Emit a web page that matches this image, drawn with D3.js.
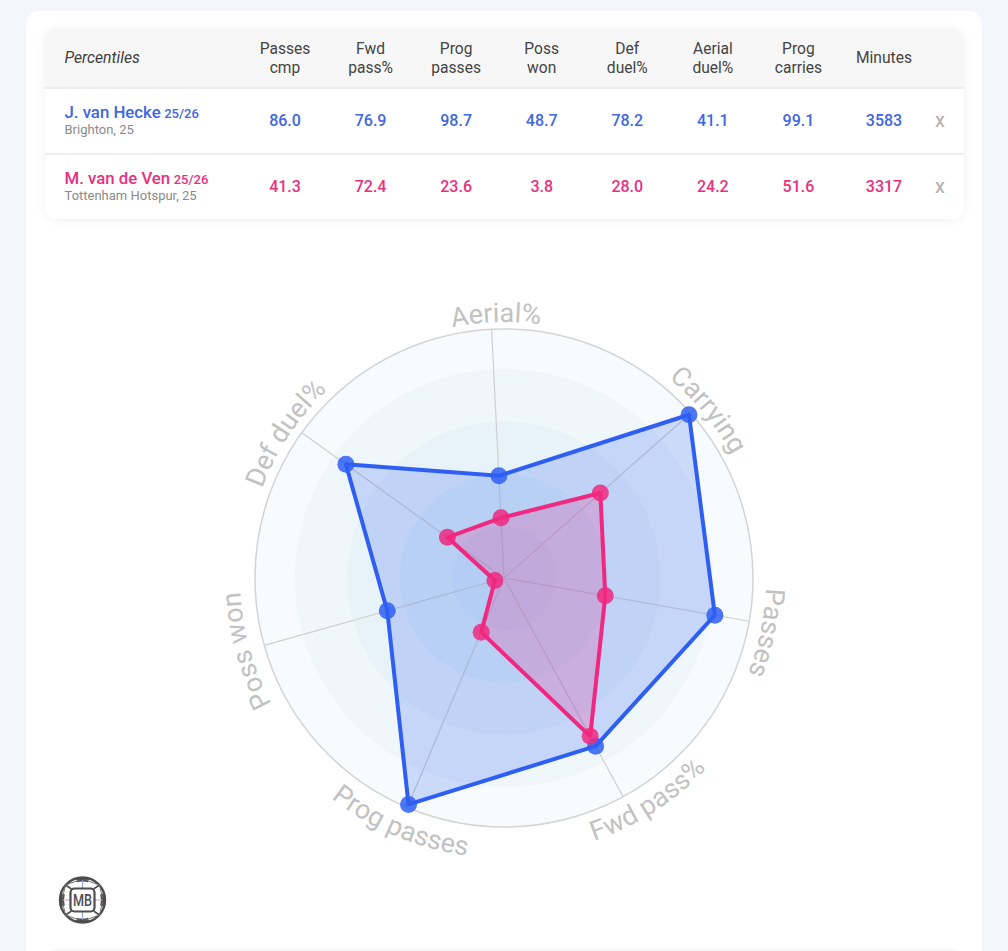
<!DOCTYPE html>
<html>
<head>
<meta charset="utf-8">
<script src="https://cdn.jsdelivr.net/npm/d3@7"></script>
<style>
  html, body { margin: 0; padding: 0; background: #f4f6fb; overflow: hidden; }
  svg { display: block; font-family: Roboto, sans-serif; }
</style>
</head>
<body>
<div id="chart"></div>
<script>
const columns = ["Passes cmp", "Fwd pass%", "Prog passes", "Poss won", "Def duel%", "Aerial duel%", "Prog carries", "Minutes"];
const axes = ["Passes", "Fwd pass%", "Prog passes", "Poss won", "Def duel%", "Aerial%", "Carrying"];
const names = ["J. van Hecke", "M. van de Ven"];
const seasons = ["25/26", "25/26"];
const clubs = ["Brighton, 25", "Tottenham Hotspur, 25"];
const heckeValues = [86.0, 76.9, 98.7, 48.7, 78.2, 41.1, 99.1];
const venValues = [41.3, 72.4, 23.6, 3.8, 28.0, 24.2, 51.6];
const minutes = [3583, 3317];
const rings = [100, 84, 63, 42, 21];

const strokes = ["#2f5ff2", "#f0287f"];
const textColors = ["#3f66e3", "#e9307f"];

const width = 1008, height = 951;
const svg = d3.select("#chart").append("svg").attr("width", width).attr("height", height);

const defs = svg.append("defs");
const shadow = defs.append("filter").attr("id", "soft")
    .attr("x", "-5%").attr("y", "-10%").attr("width", "110%").attr("height", "125%");
shadow.append("feDropShadow").attr("dx", 0).attr("dy", 1).attr("stdDeviation", 5)
    .attr("flood-color", "#000").attr("flood-opacity", 0.06);
defs.append("clipPath").attr("id", "tableClip").append("rect")
    .attr("x", 45).attr("y", 29).attr("width", 919).attr("height", 190).attr("rx", 12);

// page card
svg.append("rect").attr("x", 26).attr("y", 11).attr("width", 956).attr("height", 960)
    .attr("rx", 12).attr("fill", "#fff");
svg.append("rect").attr("x", 45).attr("y", 949).attr("width", 919).attr("height", 30)
    .attr("rx", 12).attr("fill", "#f7f7f7");

// table
const rowTop = [88, 154];
const x = d3.scalePoint().domain(columns).range([285, 884]);

const table = svg.append("g");
table.append("rect").attr("x", 45).attr("y", 29).attr("width", 919).attr("height", 190)
    .attr("rx", 12).attr("fill", "#fff").attr("filter", "url(#soft)");
const inner = table.append("g").attr("clip-path", "url(#tableClip)");
inner.append("rect").attr("x", 45).attr("y", 29).attr("width", 919).attr("height", 59).attr("fill", "#f7f7f7");
inner.selectAll("line.row").data(rowTop).enter().append("line").attr("class", "row")
    .attr("x1", 45).attr("x2", 964).attr("y1", d => d).attr("y2", d => d)
    .attr("stroke", "#e9e9e9").attr("stroke-width", 1.5);

table.append("text").attr("x", 64.5).attr("y", 62.5)
    .attr("font-size", 15.7).attr("font-style", "italic").attr("fill", "#3d3d3d").text("Percentiles");

columns.forEach(c => {
  const parts = c.split(" ");
  const t = table.append("text").attr("text-anchor", "middle").attr("font-size", 15.6).attr("fill", "#444");
  if (parts.length === 1) {
    t.attr("x", x(c)).attr("y", 62.5).text(c);
  } else {
    parts.forEach((p, i) => t.append("tspan").attr("x", x(c)).attr("y", 53.5 + i * 19).text(p));
  }
});

[heckeValues, venValues].forEach((values, row) => {
  const top = rowTop[row];
  const label = table.append("text").attr("x", 64.5).attr("y", top + 30).attr("fill", textColors[row]);
  label.append("tspan").attr("font-size", 16.8).attr("font-weight", 500).text(names[row]);
  label.append("tspan").attr("dx", 3.5).attr("font-size", 13).attr("font-weight", 500).text(seasons[row]);
  table.append("text").attr("x", 64.5).attr("y", top + 46).attr("font-size", 13)
      .attr("fill", "#8a8a8a").text(clubs[row]);

  table.selectAll(null).data(values.map(d => d.toFixed(1)).concat(String(minutes[row]))).enter().append("text")
      .attr("x", (d, i) => x(columns[i]))
      .attr("y", top + 37.5)
      .attr("text-anchor", "middle").attr("font-size", 16).attr("font-weight", 500)
      .attr("fill", textColors[row])
      .text(d => d);

  table.append("text").attr("x", 940).attr("y", top + 39).attr("text-anchor", "middle")
      .attr("font-size", 20).attr("fill", "#adadad").text("x");
});

// radar
const cx = 504, cy = 578;
const r = d3.scaleLinear().domain([0, 100]).range([0, 249]);
const angle = d3.scalePoint().domain(axes.concat("end")).range([100, 460].map(d => d * Math.PI / 180));

const radar = svg.append("g").attr("transform", `translate(${cx},${cy})`);

radar.selectAll("circle.ring").data(rings).enter().append("circle").attr("class", "ring")
    .attr("r", d => r(d))
    .attr("fill", "#3fa0c8")
    .attr("fill-opacity", (d, i) => i === 0 ? 0.045 : 0.04);
radar.append("circle").attr("r", r(100)).attr("fill", "none").attr("stroke", "#d4d4d4").attr("stroke-width", 1.5);

const lineEnd = d3.lineRadial().angle(d => angle(d[0])).radius(d => r(d[1]));
radar.selectAll("path.spoke").data(axes).enter().append("path").attr("class", "spoke")
    .attr("d", d => lineEnd([[d, 0], [d, 100]]))
    .attr("stroke", "#cfcfcf").attr("stroke-width", 1.2).attr("fill", "none");

const shape = d3.lineRadial().angle((d, i) => angle(axes[i])).radius(d => r(d)).curve(d3.curveLinearClosed);

[heckeValues, venValues].forEach((values, s) => {
  const g = radar.append("g");
  g.append("path").attr("d", shape(values))
      .attr("fill", strokes[s]).attr("fill-opacity", 0.21)
      .attr("stroke", strokes[s]).attr("stroke-width", 4).attr("stroke-linejoin", "round");
  g.selectAll("circle").data(values).enter().append("circle")
      .attr("cx", (d, i) => r(d) * Math.sin(angle(axes[i])))
      .attr("cy", (d, i) => -r(d) * Math.cos(angle(axes[i])))
      .attr("r", 8.5).attr("fill", strokes[s]).attr("fill-opacity", 0.85);
});

// curved axis labels, the two at the bottom run the other way so they stay readable
const labelPlace = {
  "Passes": { shift: 1.8, radius: 262 },
  "Fwd pass%": { shift: -4.2, radius: 278, flip: true },
  "Prog passes": { shift: 0, radius: 280, flip: true },
  "Poss won": { shift: 0, radius: 264 },
  "Def duel%": { shift: -2.2, radius: 258 },
  "Aerial%": { shift: 1.1, radius: 256 },
  "Carrying": { shift: 2, radius: 259 }
};
axes.forEach((a, i) => {
  const place = labelPlace[a];
  const mid = angle(a) - Math.PI / 2 + place.shift * Math.PI / 180;
  const span = 1.0;
  const p = d3.path();
  if (place.flip) p.arc(0, 0, place.radius, mid + span, mid - span, true);
  else p.arc(0, 0, place.radius, mid - span, mid + span, false);
  radar.append("path").attr("id", "lab" + i).attr("d", p.toString()).attr("fill", "none");
  radar.append("text").attr("font-size", 27).attr("fill", "#c2c2c2").attr("text-anchor", "middle")
    .append("textPath").attr("href", "#lab" + i).attr("startOffset", "50%").text(a);
});

// logo
const logo = svg.append("g").attr("transform", "translate(82.5,900)");
const arcWedge = d3.arc().innerRadius(18.5).outerRadius(23);
logo.append("circle").attr("r", 22.5).attr("fill", "#fff").attr("stroke", "#4d4d4d").attr("stroke-width", 2.4);
[0, 90, 180, 270].forEach(d => {
  const a = d * Math.PI / 180;
  logo.append("path").attr("d", arcWedge({ startAngle: a - 0.3, endAngle: a + 0.3 })).attr("fill", "#4d4d4d");
});
[[-11, -11, -17, -15], [11, -11, 17, -15], [-11, 11, -17, 15], [11, 11, 17, 15]].forEach(d => {
  logo.append("line").attr("x1", d[0]).attr("y1", d[1]).attr("x2", d[2]).attr("y2", d[3])
      .attr("stroke", "#4d4d4d").attr("stroke-width", 1.6);
});
[[-17, -15, -20, -2], [17, -15, 20, -2], [-17, 15, -20, 2], [17, 15, 20, 2],
 [-17, -15, -3, -20], [17, -15, 3, -20], [-17, 15, -3, 20], [17, 15, 3, 20]].forEach(d => {
  logo.append("line").attr("x1", d[0]).attr("y1", d[1]).attr("x2", d[2]).attr("y2", d[3])
      .attr("stroke", "#777").attr("stroke-width", 1);
});
[[0, -20, 0, -11, "#8ea0d8"], [0, 11, 0, 20, "#8ea0d8"], [-20, 0, -11, 0, "#d8a0bc"], [11, 0, 20, 0, "#d8a0bc"]].forEach(d => {
  logo.append("line").attr("x1", d[0]).attr("y1", d[1]).attr("x2", d[2]).attr("y2", d[3])
      .attr("stroke", d[4]).attr("stroke-width", 1);
});
logo.append("rect").attr("x", -12).attr("y", -11.5).attr("width", 24).attr("height", 23).attr("rx", 4)
    .attr("fill", "#fff").attr("stroke", "#4d4d4d").attr("stroke-width", 2.2);
logo.append("text").attr("y", 6.2).attr("text-anchor", "middle").attr("font-size", 17)
    .attr("font-weight", 500).attr("fill", "#4d4d4d").attr("textLength", 19).attr("lengthAdjust", "spacingAndGlyphs").text("MB");
</script>
</body>
</html>
